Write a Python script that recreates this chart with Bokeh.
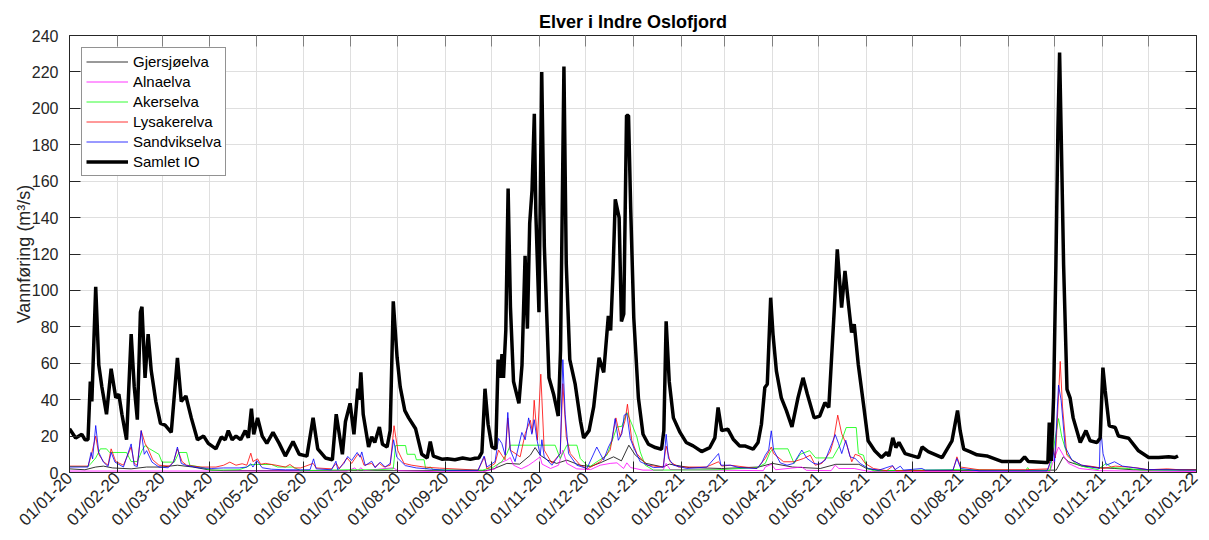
import math
import pandas as pd
from bokeh.plotting import figure
from bokeh.models import (FixedTicker, DatetimeTickFormatter, LinearAxis, DatetimeAxis,
                          Legend, LegendItem, Range1d, ColumnDataSource, SingleIntervalTicker)
from bokeh.embed import file_html
from bokeh.resources import INLINE

# ---------------- data (day offset from 2020-01-01, value m3/s) ----------------
START = "2020-01-01"
END = "2022-01-01"
tick_months = pd.date_range(START, END, freq="MS")

samlet_day = [0, 4, 8, 10, 12, 13.5, 14.5, 17, 19, 21, 24, 27, 30, 32, 34, 37, 40, 42, 44, 46, 47, 49, 51, 53,
              56, 59, 62, 66, 70, 72.5, 75.5, 79, 83, 87, 90, 95, 98.5, 101, 103, 105.5, 108, 111, 114, 116,
              118, 119.5, 122, 125, 128, 132, 136, 140, 145, 149, 154, 158, 161, 166, 170.5, 173, 177, 179,
              182, 184.5, 187, 188, 189, 190.5, 194, 196, 198, 201, 203, 206, 208, 210, 212.5, 214.5, 217.5,
              220, 224.5, 228.5, 232, 234, 236, 241.5, 245, 250, 255, 260, 263, 265.5, 267.5, 269.5, 271.5,
              274, 276.5, 278, 279.5, 280.5, 281.5, 283, 284.5, 286, 288, 291.5, 293.5, 295.5, 297, 298.5,
              300, 301.5, 302.5, 304.5, 306.3, 308, 311, 314, 317, 318.5, 320.7, 322.2, 324.5, 328, 331.5,
              333.5, 337, 340, 343.5, 346.5, 349.5, 351, 352.5, 354, 356.5, 358, 359.5, 361.3, 362.6, 364,
              366, 369, 372, 375.5, 380, 384, 385.5, 387, 389, 391.7, 396, 400, 404.5, 410, 415.3, 418.6,
              420.7, 423, 427, 430.5, 434.7, 438, 443.4, 446.6, 448.8, 451, 452.6, 454.8, 456.3, 458.5,
              461.7, 465, 468.6, 472.5, 475.8, 478.6, 483, 486.6, 490, 492.5, 496, 498, 500.8, 503, 505.5,
              507.3, 509, 511.6, 515, 518, 522.3, 526.7, 530, 531.5, 534, 536, 538, 542, 550.7, 553, 557,
              566, 572.4, 576, 577.7, 580, 584, 588.6, 595, 605, 616.7, 619.5, 622, 633, 634.6, 635.5, 636.8,
              638.3, 639.8, 641.1, 642.2, 643.2, 644.8, 647, 649, 651, 655.6, 659.3, 662, 666.4, 668.5,
              670.3, 671.8, 674.4, 678.3, 680.4, 687, 693.4, 700, 706.4, 713, 717, 719]
samlet_val = [24, 19, 21, 18, 18, 50, 39, 102, 59, 47, 32, 57, 41, 43, 32, 18, 76, 47, 29, 88, 91, 52, 76, 56,
              39, 27, 26, 22, 63, 39, 42, 30, 18, 20, 16, 13, 19.5, 18, 23, 18, 20, 18, 23, 19,
              35, 21, 30, 20, 16, 22, 16, 9, 17, 10, 9, 30, 13, 8, 7, 32, 10, 28,
              38, 21, 46, 40, 55, 32, 14, 19.6, 16.5, 25, 15.5, 14, 23, 94, 63, 47, 34,
              30, 24, 10, 8, 17, 9, 7.3, 7.5, 7, 8, 7.2, 7.8, 8, 11, 46, 26.5,
              14, 13, 62, 52, 65, 52, 78, 156, 91, 50, 38, 59, 119, 79, 137,
              155, 197, 142, 88, 220, 124, 52, 43, 31, 67, 223, 115, 62, 48.5, 28,
              19, 23, 36, 63, 55, 86, 78, 109, 150, 140, 83, 87, 196, 196, 145,
              85, 41, 21, 15.5, 13.7, 12.8, 23, 83, 50, 30, 22, 16.5, 14.6, 11.5, 13.7, 19,
              35.7, 23, 23.8, 18.3, 14.6, 14.6, 12.8, 16.5, 26.5, 46.7, 48.5, 96, 76, 55.8,
              41, 34, 25, 41, 52, 43, 30, 31, 38.4, 35.7, 88.7, 122.6, 90.6, 110.7, 90.6,
              76.9, 81.4, 59.5, 37.5, 17.4, 11.9, 8.2, 11, 9, 19, 13.7, 16.5, 10.4, 8.2, 14, 11.5,
              8.2, 17.4, 34, 23, 12.8, 11.5, 9.7, 9.1, 6, 6, 8.6, 6, 5.5, 5.5, 27.4, 6.4,
              41, 114, 187.6, 230.6, 187.6, 114, 45.7, 41, 30, 16.5, 23, 17.4, 16.5, 19,
              57.6, 44.8, 25.6, 24.7, 20, 18.8, 11.9, 8.2, 8.2, 8.6, 8.2, 9.1]

sandv_day = [0, 12, 14, 15, 17, 19, 22, 25, 27, 29.5, 35, 40, 42, 44, 46.5, 48.5, 50, 53.5, 58, 64, 67.5, 70,
             72.5, 76, 84, 92, 100, 110, 115, 117.6, 119, 121.5, 125, 131, 140, 150, 156, 158.3, 160, 170,
             172.8, 174, 178, 180.5, 183, 186.6, 188.5, 189.6, 191.8, 196, 198.3, 201.5, 204.8, 208, 210.2,
             212.3, 217.8, 225, 235, 245, 265, 268.9, 270.7, 276, 278.3, 280.4, 282.6, 284.3, 285.9, 289,
             293.4, 295.6, 297.8, 299.9, 301.4, 303.2, 305.3, 306.4, 307.9, 312.9, 318.3, 320, 321.5, 323.7,
             329, 335.6, 342, 344.2, 346.4, 349.6, 351.8, 353.9, 356, 358.3, 359.8, 361.5, 363.7, 365.8,
             370.2, 378.8, 385.3, 387, 388.5, 391.8, 400.4, 413.4, 421, 422.5, 428.5, 435, 445.9, 449,
             451.3, 453.5, 455.2, 456.7, 461, 465.4, 469.7, 475, 478.4, 482.7, 486, 490.2, 494.5, 496.7,
             498.8, 500.9, 503.5, 506.3, 509.6, 512.8, 518.2, 525, 533.9, 535.5, 538.9, 541, 552.9, 555,
             573, 575.6, 578, 590, 620, 634, 636.4, 637.6, 639, 641.5, 643.2, 645.8, 650.2, 656.6, 663,
             668, 668.7, 670.4, 672.5, 677.8, 683, 690, 699, 731]
sandv_val = [3, 3, 11, 7.5, 25.8, 11, 5.7, 3.3, 11, 5.7, 3, 15.7, 3.8, 3.3, 23, 10, 12, 5.7, 3, 2.6, 5.7, 14,
             5, 3.8, 2.6, 2.2, 2.5, 2.5, 3, 4.8, 3, 6.6, 2.6, 1.8, 1.5, 1.5, 1.5, 7.5, 2, 1.5,
             6.2, 1.5, 5, 8.8, 6.6, 11, 8.4, 11.3, 3.8, 6.2, 2.6, 5.7, 3, 5, 18,
             8.4, 3.8, 2.5, 1.8, 1.2, 1.2, 9, 3, 6, 18.7, 16, 9.5, 33, 12.3, 6,
             22, 18, 30, 21, 29, 18, 9.5, 18, 8.6, 4, 10.4, 62, 32, 10.4,
             4, 2.2, 14, 10.4, 6.8, 14, 17.7, 29.6, 17.7, 21.4, 31.5, 32.4, 18.7, 14,
             5.9, 2.7, 3, 21, 7.7, 4, 2.2, 3, 10.4, 4, 4, 2.6, 2.2, 5.3,
             9.5, 12.3, 22.9, 12.3, 5.3, 4, 5, 12.3, 7.7, 5, 4.5, 6.8, 16, 20.8,
             16, 10.4, 17.7, 8.6, 7.7, 5, 2.2, 1.3, 3.8, 1.6, 3.5, 1.3, 2.2, 1.3,
             1.3, 7.7, 2.2, 0.9, 0.9, 0.9, 5.9, 14, 6, 48, 39.7, 14, 6.8, 4, 3,
             2.2, 25, 10.4, 4, 5.9, 3.5, 2.7, 1.6, 1.3]

lysak_day = [0, 12, 14, 17, 19, 22, 25, 27, 30, 35, 40, 42, 44, 46.5, 49, 51, 54, 58, 65, 67.5, 70, 73, 76,
             85, 95, 100, 104, 108, 112, 115, 117.6, 119, 122, 124, 127, 134, 140, 143, 146, 150, 158, 160,
             170, 173, 175, 180, 183, 187, 189, 191, 196, 198, 201, 204, 208, 210.5, 213, 217, 222, 230,
             240, 265, 269.2, 270.7, 276, 278.3, 280.4, 282.5, 284.3, 285.9, 292.3, 295.6, 298.9, 300.3,
             301.4, 303.5, 305.7, 307.9, 312.9, 318.3, 320, 322.2, 324.8, 331.3, 336, 344.2, 350.7, 354.4,
             357.2, 360.4, 361.9, 364.7, 368, 374.5, 385, 387, 389.6, 395, 413, 421, 423, 428.5, 445.9,
             451.3, 455.2, 456.7, 463.2, 469.7, 476.2, 480.5, 483.7, 488, 493.4, 495.6, 498.3, 500.9,
             504.2, 507.4, 509.6, 512.8, 516.1, 521.5, 530, 533.9, 536, 573, 575.6, 578, 590, 620, 635,
             637.6, 639.5, 642.6, 644.1, 646.9, 650.2, 656.6, 662, 670, 678.3, 686.9, 693, 700, 712, 720, 731]
lysak_val = [3.5, 3.5, 9, 20, 10, 6, 4, 13, 6, 4, 14, 5, 4, 23, 16, 13, 7, 4, 3.5, 6, 13, 6, 4,
             3, 3, 4, 5.7, 4, 4.8, 4, 10.6, 6, 7.5, 4.5, 5, 4, 3, 4.4, 2.5, 2.5, 5, 2.5,
             2, 5, 2, 8, 5, 10, 9, 4, 5, 3, 5, 3, 4, 25.7, 12, 5, 4, 3,
             2.4, 1.3, 8.6, 2, 5, 12.3, 9.5, 7, 30, 12.3, 8.6, 21.4, 28.7, 22,
             39.7, 17.7, 54, 12.3, 5, 10.4, 48.8, 19.6, 10.4, 4, 2, 5.9, 12.3, 30,
             19.6, 28.7, 37.5, 17.7, 10.4, 4, 3, 14.5, 5.9, 3, 3, 5.9, 3.5, 4, 2.2,
             7.7, 14, 10.4, 5.9, 5.9, 7.7, 9.5, 4, 5, 11.3, 17.7, 31.5, 21.2,
             15, 5.9, 10, 9, 5, 2.2, 1, 3.5, 1, 1, 8.6, 3, 1.5, 1.5, 2,
             14, 8, 61, 36, 9.5, 6.8, 4, 3.5, 2.2, 3.5, 3, 2.5, 1.5, 2, 1.5, 1.5]

aker_day = [0, 12, 14, 17, 20, 24, 26, 37, 40, 44, 47, 49, 52, 58, 60, 68, 71, 76, 78, 85, 92, 110, 115, 118,
            131, 135, 145, 150, 180, 200, 210, 211.5, 218, 219, 224, 225, 230, 231, 234, 236, 268, 275,
            280.4, 283.7, 285.9, 315, 318.3, 322.6, 329.1, 331.3, 335.6, 338, 342.1, 348.6, 352.9, 355.1,
            358.3, 361.5, 364.7, 368, 370.2, 373.4, 378.8, 420, 445.9, 451.3, 454.5, 456.7, 466, 470, 474,
            480, 484, 495, 500, 503.8, 510.3, 511.7, 515, 517.2, 522, 575, 620, 621.5, 623, 636, 639.1,
            641.5, 643.6, 646.9, 652.2, 658.7, 667, 672.4, 676, 686.9, 695, 731]
aker_val = [3.3, 3.3, 5, 8, 13, 13, 11, 11, 6, 6, 12, 14.8, 13, 10, 5.7, 5.7, 11, 11, 4, 3, 1.2, 1.5, 3, 4.4,
            4.4, 3, 3, 1, 1.5, 1.5, 2, 14.8, 14.8, 10, 10, 7, 7, 2, 3, 1.5, 1.3, 3,
            5.9, 10.4, 15, 15, 7.7, 15, 15, 7.7, 4, 3.5, 5.9, 9.5, 19.6, 25,
            25.4, 33, 26.7, 19.6, 11.3, 4, 1.3, 1.5, 2.7, 5, 11.3, 13, 13, 5, 10,
            12, 8, 8, 15.5, 24.7, 24.7, 10.4, 9.5, 2.2, 0.9, 1.6, 1, 2.7, 1, 1, 17.7,
            29.6, 19.6, 10.4, 5, 3, 1.6, 5, 2.7, 2.2, 1.3, 1.3]

alna_day = [0, 180, 185, 187, 189, 191, 210, 213, 240, 268, 276, 278.3, 283.7, 285.9, 288, 293, 297.8, 301,
            305.3, 306.5, 312, 317.2, 320, 322.6, 329, 338, 344.2, 350.7, 355.1, 359.4, 361.5, 364, 372,
            385, 387, 389.6, 450, 451.3, 455.2, 458, 475, 478, 494, 496.7, 499, 509, 514, 520, 636, 637.6,
            641.5, 644.6, 648, 655, 668, 731]
alna_val = [0.8, 0.8, 2.5, 1, 2.6, 1, 2.6, 1, 0.4, 0.4, 2, 5, 6.8, 8.2, 4, 2, 4, 5.9,
            8.6, 4.6, 2.2, 4, 12.3, 5, 2, 1.6, 4, 5, 5.3, 2.2, 5.3, 2.7, 1.3,
            1.3, 5, 1.6, 1, 3, 4.5, 1.5, 3, 1.2, 1, 4, 2.2, 2.2, 1.3, 0.5, 0.5, 5,
            14, 9.5, 5, 2.2, 1, 0.5]

gjers_day = [0, 10, 17, 22, 28, 40, 50, 60, 70, 80, 90, 100, 270, 275, 283.7, 292, 298.9, 302, 305.3, 310,
             316, 322.6, 331, 338, 344.2, 352.9, 358, 362.8, 367, 374, 385, 389, 402, 423, 447, 456, 469,
             487, 497, 512, 517, 525, 640, 644.6, 648, 656.6, 668, 678, 690, 731]
gjers_val = [2, 1.5, 3, 3.5, 2.5, 2, 3, 3, 4, 3, 1.5, 1, 1, 2, 5, 4.6, 9.5, 13.7, 9.5, 6.8,
             5, 6.8, 4, 3.3, 5.3, 8.6, 6.4, 15, 9.5, 5, 3, 4.6, 2.7, 2.2, 3, 5, 3,
             2.2, 4.5, 4.5, 2.2, 1, 1.3, 8.6, 5.9, 3.5, 2.7, 2.2, 1.5, 1.5]

series = [
    ("Gjersjøelva", gjers_day, gjers_val, "#000000", 0.8),
    ("Alnaelva", alna_day, alna_val, "#FF00FF", 0.8),
    ("Akerselva", aker_day, aker_val, "#00FF00", 0.8),
    ("Lysakerelva", lysak_day, lysak_val, "#FF0000", 0.8),
    ("Sandvikselva", sandv_day, sandv_val, "#0000FF", 0.8),
    ("Samlet IO", samlet_day, samlet_val, "#000000", 3.5),
]

# ---------------- figure ----------------
t0 = pd.Timestamp(START)
FONT = "Liberation Sans"
AX = "#262626"

p = figure(width=1201, height=539, x_axis_type="datetime", output_backend="svg",
           toolbar_location=None, tools="",
           x_range=Range1d(pd.Timestamp(START), pd.Timestamp(END)),
           y_range=Range1d(0, 240))
p.min_border_left = 69
p.min_border_right = 5
p.min_border_top = 35
p.min_border_bottom = 67
p.background_fill_color = "white"
p.border_fill_color = "white"
p.outline_line_color = AX
p.outline_line_width = 1

p.title.text = "Elver i Indre Oslofjord"
p.title.align = "center"
p.title.text_font = FONT
p.title.text_font_size = "18px"
p.title.text_font_style = "bold"
p.title.text_color = "#000000"
p.title.standoff = 7

xt = FixedTicker(ticks=[t.value / 1e6 for t in tick_months])
yt = SingleIntervalTicker(interval=20)
fmt = "%d/%m-%y"
xfmt = DatetimeTickFormatter(milliseconds=fmt, seconds=fmt, minsec=fmt, minutes=fmt, hourmin=fmt,
                             hours=fmt, days=fmt, months=fmt, years=fmt)
xfmt.context = None

for ax in (p.xaxis[0], p.yaxis[0]):
    ax.axis_line_color = AX
    ax.major_tick_line_color = AX
    ax.major_tick_in = 11
    ax.major_tick_out = 0
    ax.minor_tick_line_color = None
    ax.major_label_text_font = FONT
    ax.major_label_text_font_size = "16px"
    ax.major_label_text_color = AX
    ax.axis_label_text_font = FONT
    ax.axis_label_text_font_style = "normal"
    ax.axis_label_text_color = AX

p.xaxis[0].ticker = xt
p.xaxis[0].formatter = xfmt
p.xaxis[0].major_label_orientation = math.pi / 4
p.xaxis[0].major_label_text_font_size = "17px"
p.xaxis[0].major_label_standoff = 3
p.yaxis[0].ticker = yt
p.yaxis[0].major_label_standoff = 7
p.yaxis[0].axis_label = "Vannføring (m³/s)"
p.yaxis[0].axis_label_text_font_size = "18px"
p.yaxis[0].axis_label_standoff = -5

top = DatetimeAxis(ticker=xt, major_label_text_font_size="1px", major_label_text_color=None,
                   major_label_standoff=0,
                   major_tick_in=11, major_tick_out=0, minor_tick_line_color=None,
                   axis_line_color=AX, major_tick_line_color="#808080")
right = LinearAxis(ticker=yt, major_label_text_font_size="1px", major_label_text_color=None,
                   major_label_standoff=0,
                   major_tick_in=11, major_tick_out=0, minor_tick_line_color=None,
                   axis_line_color=AX, major_tick_line_color=AX)
p.add_layout(top, "above")
p.add_layout(right, "right")

p.xgrid.ticker = xt
p.ygrid.ticker = yt
p.xgrid.grid_line_color = "#dfdfdf"
p.ygrid.grid_line_color = "#dfdfdf"
p.xgrid.grid_line_width = 1
p.ygrid.grid_line_width = 1

items = []
for name, days, vals, col, lw in series:
    src = ColumnDataSource(dict(x=[t0 + pd.Timedelta(days=d) for d in days], y=vals))
    r = p.line("x", "y", source=src, line_color=col, line_width=lw)
    items.append(LegendItem(label=name, renderers=[r]))

legend = Legend(items=items, location="top_left", margin=12, padding=4, spacing=1,
                label_height=19, glyph_height=19, glyph_width=42, label_standoff=5,
                label_text_font=FONT, label_text_font_size="15px", label_text_color="#000000",
                border_line_color=AX, border_line_width=1, background_fill_color="white",
                background_fill_alpha=1.0)
p.add_layout(legend)

open("out.html", "w").write(file_html(p, INLINE))
